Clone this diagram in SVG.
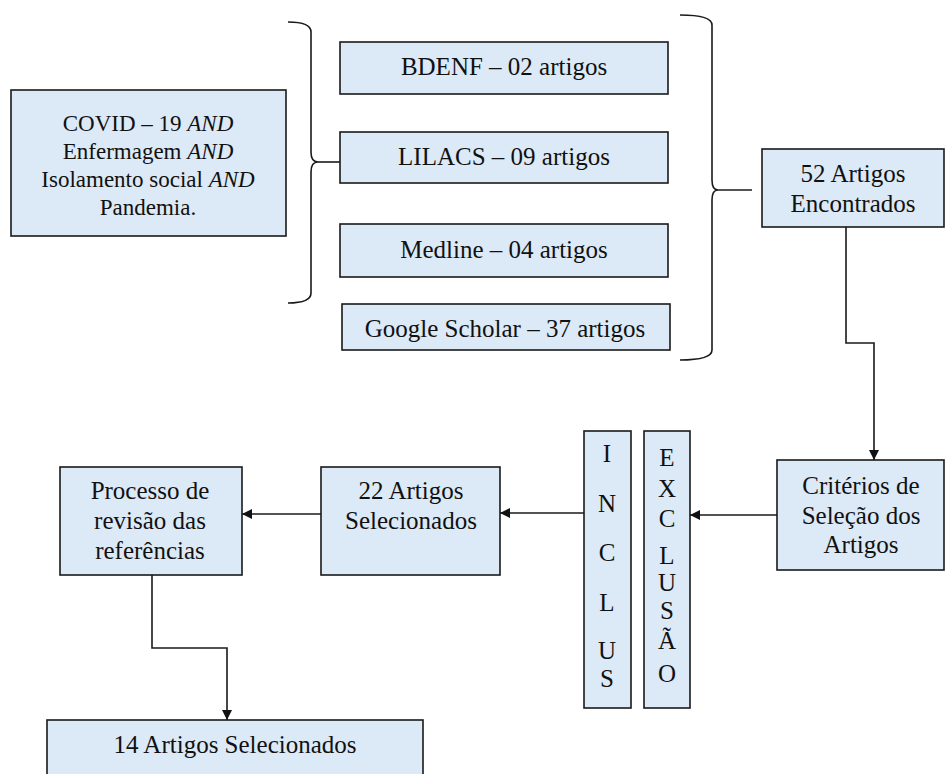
<svg xmlns="http://www.w3.org/2000/svg" width="946" height="774" viewBox="0 0 946 774" font-family="Liberation Serif">
  <style>
    .box { fill: #dce9f7; stroke: #1a1a1a; stroke-width: 1.6; }
    .label { font-size: 25px; fill: #111; text-anchor: middle; }
    .line { fill: none; stroke: #1a1a1a; stroke-width: 1.6; }
  </style>
  <defs>
    <marker id="arrow" viewBox="0 0 10 10" refX="10" refY="5" markerWidth="10" markerHeight="10" markerUnits="userSpaceOnUse" orient="auto">
      <path d="M0,0 L10,5 L0,10 z" fill="#111"/>
    </marker>
  </defs>
  <rect width="946" height="774" fill="#ffffff"/>

  <!-- connectors and braces -->
  <g id="connectors">
    <path class="line" d="M288,22 Q311,22 311,32 L311,152 Q311,162 318,162 Q311,162 311,172 L311,293 Q311,303 288,303"/>
    <line class="line" x1="318" y1="162" x2="340" y2="162"/>
    <path class="line" d="M680,15 Q712,15 712,25 L712,180 Q712,190 718,190 Q712,190 712,200 L712,350 Q712,360 680,360"/>
    <line class="line" x1="718" y1="190" x2="752" y2="190"/>
    <path class="line" d="M846,227 L846,343 L874,343 L874,460" marker-end="url(#arrow)"/>
    <line class="line" x1="777" y1="515" x2="690" y2="515" marker-end="url(#arrow)"/>
    <line class="line" x1="584" y1="513" x2="500" y2="513" marker-end="url(#arrow)"/>
    <line class="line" x1="321" y1="514" x2="242" y2="514" marker-end="url(#arrow)"/>
    <path class="line" d="M152,575 L152,648 L227,648 L227,720" marker-end="url(#arrow)"/>
  </g>

  <g id="node-query">
    <rect class="box" x="11" y="90" width="275" height="146"/>
    <text font-family="Times New Roman" font-size="23" fill="#111" text-anchor="middle" x="148" y="131">COVID – 19 <tspan font-style="italic">AND</tspan></text>
    <text font-family="Times New Roman" font-size="23" fill="#111" text-anchor="middle" x="148" y="159">Enfermagem <tspan font-style="italic">AND</tspan></text>
    <text font-family="Times New Roman" font-size="23" fill="#111" text-anchor="middle" x="148" y="187">Isolamento social <tspan font-style="italic">AND</tspan></text>
    <text font-family="Times New Roman" font-size="23" fill="#111" text-anchor="middle" x="148" y="215">Pandemia.</text>
  </g>

  <g id="node-bdenf">
    <rect class="box" x="340" y="42" width="328" height="52"/>
    <text class="label" x="504" y="75">BDENF – 02 artigos</text>
  </g>
  <g id="node-lilacs">
    <rect class="box" x="340" y="132" width="328" height="51"/>
    <text class="label" x="504" y="165">LILACS – 09 artigos</text>
  </g>
  <g id="node-medline">
    <rect class="box" x="340" y="224" width="328" height="53"/>
    <text class="label" x="504" y="258">Medline – 04 artigos</text>
  </g>
  <g id="node-scholar">
    <rect class="box" x="342" y="304" width="328" height="46"/>
    <text class="label" x="505" y="337">Google Scholar – 37 artigos</text>
  </g>

  <g id="node-found">
    <rect class="box" x="762" y="149" width="182" height="78"/>
    <text class="label" x="853" y="182">52 Artigos</text>
    <text class="label" x="853" y="212">Encontrados</text>
  </g>

  <g id="node-criteria">
    <rect class="box" x="777" y="460" width="167" height="110"/>
    <text class="label" x="861" y="494">Critérios de</text>
    <text class="label" x="861" y="524">Seleção dos</text>
    <text class="label" x="861" y="553">Artigos</text>
  </g>

  <!-- vertical bars spelled one letter per line -->
  <g id="node-exclusao">
    <rect class="box" x="644" y="431" width="46" height="277"/>
    <text font-family="Times New Roman" font-size="25" fill="#111" text-anchor="middle" x="667" y="466">E</text>
    <text font-family="Times New Roman" font-size="25" fill="#111" text-anchor="middle" x="667" y="497">X</text>
    <text font-family="Times New Roman" font-size="25" fill="#111" text-anchor="middle" x="667" y="527">C</text>
    <text font-family="Times New Roman" font-size="25" fill="#111" text-anchor="middle" x="667" y="564">L</text>
    <text font-family="Times New Roman" font-size="25" fill="#111" text-anchor="middle" x="667" y="591">U</text>
    <text font-family="Times New Roman" font-size="25" fill="#111" text-anchor="middle" x="667" y="619">S</text>
    <text font-family="Times New Roman" font-size="25" fill="#111" text-anchor="middle" x="667" y="649">Ã</text>
    <text font-family="Times New Roman" font-size="25" fill="#111" text-anchor="middle" x="667" y="682">O</text>
  </g>

  <g id="node-inclusao">
    <rect class="box" x="584" y="431" width="47" height="277"/>
    <text font-family="Times New Roman" font-size="25" fill="#111" text-anchor="middle" x="607" y="462">I</text>
    <text font-family="Times New Roman" font-size="25" fill="#111" text-anchor="middle" x="607" y="512">N</text>
    <text font-family="Times New Roman" font-size="25" fill="#111" text-anchor="middle" x="607" y="561">C</text>
    <text font-family="Times New Roman" font-size="25" fill="#111" text-anchor="middle" x="607" y="611">L</text>
    <text font-family="Times New Roman" font-size="25" fill="#111" text-anchor="middle" x="607" y="659">U</text>
    <text font-family="Times New Roman" font-size="25" fill="#111" text-anchor="middle" x="607" y="687">S</text>
  </g>

  <g id="node-selected22">
    <rect class="box" x="321" y="467" width="179" height="108"/>
    <text class="label" x="411" y="499">22 Artigos</text>
    <text class="label" x="411" y="529">Selecionados</text>
  </g>

  <g id="node-review">
    <rect class="box" x="60" y="467" width="182" height="108"/>
    <text class="label" x="150" y="499">Processo de</text>
    <text class="label" x="150" y="529">revisão das</text>
    <text class="label" x="150" y="559">referências</text>
  </g>

  <g id="node-selected14">
    <rect class="box" x="47" y="720" width="376" height="70"/>
    <text class="label" x="235" y="753">14 Artigos Selecionados</text>
  </g>
</svg>
